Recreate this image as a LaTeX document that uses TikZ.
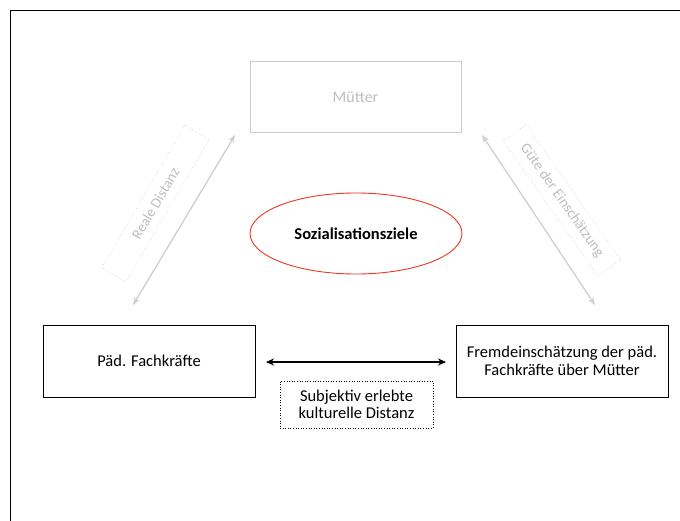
\documentclass[tikz,border=0pt]{standalone}
\usepackage{fontspec}
\setmainfont{Carlito}
\usetikzlibrary{arrows.meta,shapes.geometric}
\definecolor{faint}{RGB}{205,205,205}
\definecolor{fainttext}{RGB}{190,190,190}
\definecolor{ovalred}{RGB}{235,55,35}
\tikzset{
  box/.style={draw=black, line width=0.8pt, minimum width=212pt, minimum height=72pt, align=center, font=\fontsize{16.5}{18}\selectfont},
  fadedbox/.style={draw=faint, line width=0.8pt, minimum width=211pt, minimum height=71pt, text=fainttext, font=\fontsize{16}{18}\selectfont},
  fadedlabel/.style={draw=faint, dotted, line width=0.6pt, minimum width=165pt, minimum height=28pt, text=fainttext, font=\fontsize{14.8}{18}\selectfont, inner sep=0pt},
  goal/.style={ellipse, draw=ovalred, line width=0.9pt, minimum width=212pt, minimum height=81pt, font=\bfseries\fontsize{16.5}{18}\selectfont},
  distlabel/.style={draw=black, dotted, line width=0.6pt, minimum width=153pt, minimum height=47pt, align=center, inner sep=0pt, font=\fontsize{16.5}{17}\selectfont},
  twoway/.style={{Stealth[length=8pt,width=7pt]}-{Stealth[length=8pt,width=7pt]}, line width=1.2pt},
  fadedway/.style={{Stealth[length=8pt,width=6pt]}-{Stealth[length=8pt,width=6pt]}, draw=faint, line width=1.2pt}
}
\begin{document}
\begin{tikzpicture}[x=1pt, y=-1pt]
  \useasboundingbox (0,0) rectangle (680,521);
  % page frame
  \draw[line width=0.8pt] (10,521) -- (10,10) -- (680,10);

  \node[fadedbox] (mother) at (355.5,97) {Mütter};
  \node[goal] (goals) at (356,233.5) {Sozialisationsziele};
  \node[box] (staff) at (149,361) {Päd. Fachkräfte};
  \node[box] (judge) at (562,361) {Fremdeinschätzung der päd.\\Fachkräfte über Mütter};
  \node[distlabel] (cult) at (356.5,404.5) {Subjektiv erlebte\\kulturelle Distanz};

  \node[fadedlabel, rotate=59.7] (real) at (155.5,203.5) {Reale Distanz};
  \node[fadedlabel, rotate=-55] (quality) at (562,200.5) {Güte der Einschätzung};

  % connector end points
  \coordinate (lt) at (235,135);
  \coordinate (lb) at (133,305);
  \coordinate (rt) at (482,135);
  \coordinate (rb) at (595,305);
  \coordinate (hl) at (266,362);
  \coordinate (hr) at (446,362);

  \draw[fadedway] (lb) -- (lt);
  \draw[fadedway] (rt) -- (rb);
  \draw[twoway] (hl) -- (hr);
\end{tikzpicture}
\end{document}
